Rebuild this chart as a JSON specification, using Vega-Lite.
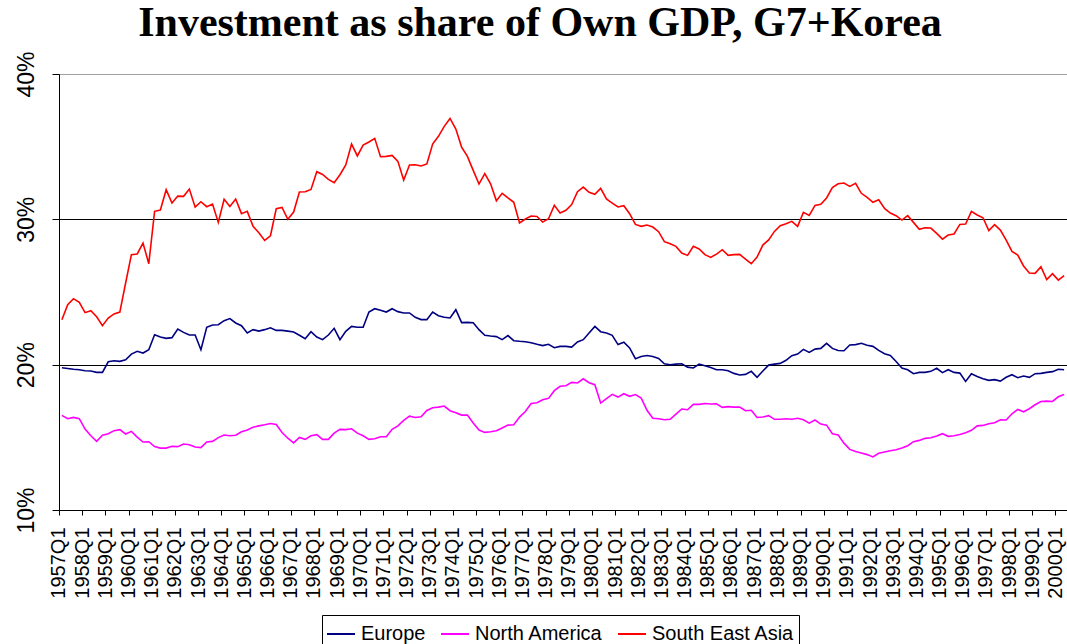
{
 "$schema": "https://vega.github.io/schema/vega-lite/v6.json",
 "width": 1008, "height": 436,
 "autosize": {"type": "none"},
 "padding": {"left": 59, "top": 74, "right": 0, "bottom": 134},
 "background": "white",
 "config": {"view": {"stroke": "#a0a0a0"}, "font": "Liberation Sans"},
 "title": {"text": "Investment as share of Own GDP, G7+Korea", "font": "Liberation Serif", "fontSize": 42, "fontWeight": "bold", "color": "black", "anchor": "middle", "baseline": "alphabetic", "offset": 10, "dx": -23, "dy": 37},
 "data": {"values": [
{"q":"1957Q1","Europe":19.79,"North America":16.51,"South East Asia":23.09},
{"q":"1957Q2","Europe":19.74,"North America":16.28,"South East Asia":24.13},
{"q":"1957Q3","Europe":19.68,"North America":16.37,"South East Asia":24.54},
{"q":"1957Q4","Europe":19.65,"North America":16.28,"South East Asia":24.29},
{"q":"1958Q1","Europe":19.58,"North America":15.57,"South East Asia":23.58},
{"q":"1958Q2","Europe":19.56,"North America":15.11,"South East Asia":23.71},
{"q":"1958Q3","Europe":19.47,"North America":14.72,"South East Asia":23.30},
{"q":"1958Q4","Europe":19.47,"North America":15.14,"South East Asia":22.68},
{"q":"1959Q1","Europe":20.20,"North America":15.25,"South East Asia":23.21},
{"q":"1959Q2","Europe":20.27,"North America":15.46,"South East Asia":23.49},
{"q":"1959Q3","Europe":20.23,"North America":15.53,"South East Asia":23.62},
{"q":"1959Q4","Europe":20.34,"North America":15.23,"South East Asia":25.62},
{"q":"1960Q1","Europe":20.73,"North America":15.41,"South East Asia":27.57},
{"q":"1960Q2","Europe":20.92,"North America":15.02,"South East Asia":27.62},
{"q":"1960Q3","Europe":20.80,"North America":14.68,"South East Asia":28.37},
{"q":"1960Q4","Europe":21.03,"North America":14.70,"South East Asia":26.95},
{"q":"1961Q1","Europe":22.06,"North America":14.36,"South East Asia":30.55},
{"q":"1961Q2","Europe":21.90,"North America":14.26,"South East Asia":30.64},
{"q":"1961Q3","Europe":21.81,"North America":14.26,"South East Asia":32.04},
{"q":"1961Q4","Europe":21.86,"North America":14.38,"South East Asia":31.12},
{"q":"1962Q1","Europe":22.45,"North America":14.36,"South East Asia":31.60},
{"q":"1962Q2","Europe":22.22,"North America":14.54,"South East Asia":31.58},
{"q":"1962Q3","Europe":22.04,"North America":14.49,"South East Asia":32.08},
{"q":"1962Q4","Europe":22.04,"North America":14.33,"South East Asia":30.84},
{"q":"1963Q1","Europe":21.03,"North America":14.29,"South East Asia":31.21},
{"q":"1963Q2","Europe":22.57,"North America":14.68,"South East Asia":30.87},
{"q":"1963Q3","Europe":22.73,"North America":14.72,"South East Asia":31.05},
{"q":"1963Q4","Europe":22.75,"North America":14.98,"South East Asia":29.79},
{"q":"1964Q1","Europe":23.03,"North America":15.16,"South East Asia":31.38},
{"q":"1964Q2","Europe":23.17,"North America":15.11,"South East Asia":30.88},
{"q":"1964Q3","Europe":22.87,"North America":15.14,"South East Asia":31.40},
{"q":"1964Q4","Europe":22.68,"North America":15.38,"South East Asia":30.39},
{"q":"1965Q1","Europe":22.18,"North America":15.51,"South East Asia":30.55},
{"q":"1965Q2","Europe":22.41,"North America":15.70,"South East Asia":29.52},
{"q":"1965Q3","Europe":22.31,"North America":15.79,"South East Asia":29.08},
{"q":"1965Q4","Europe":22.41,"North America":15.86,"South East Asia":28.55},
{"q":"1966Q1","Europe":22.54,"North America":15.95,"South East Asia":28.87},
{"q":"1966Q2","Europe":22.36,"North America":15.88,"South East Asia":30.73},
{"q":"1966Q3","Europe":22.36,"North America":15.33,"South East Asia":30.82},
{"q":"1966Q4","Europe":22.31,"North America":14.94,"South East Asia":30.00},
{"q":"1967Q1","Europe":22.25,"North America":14.62,"South East Asia":30.50},
{"q":"1967Q2","Europe":22.02,"North America":14.99,"South East Asia":31.88},
{"q":"1967Q3","Europe":21.79,"North America":14.86,"South East Asia":31.90},
{"q":"1967Q4","Europe":22.27,"North America":15.11,"South East Asia":32.06},
{"q":"1968Q1","Europe":21.90,"North America":15.18,"South East Asia":33.28},
{"q":"1968Q2","Europe":21.72,"North America":14.86,"South East Asia":33.09},
{"q":"1968Q3","Europe":22.04,"North America":14.86,"South East Asia":32.75},
{"q":"1968Q4","Europe":22.50,"North America":15.29,"South East Asia":32.52},
{"q":"1969Q1","Europe":21.72,"North America":15.55,"South East Asia":33.07},
{"q":"1969Q2","Europe":22.29,"North America":15.53,"South East Asia":33.74},
{"q":"1969Q3","Europe":22.63,"North America":15.59,"South East Asia":35.18},
{"q":"1969Q4","Europe":22.57,"North America":15.29,"South East Asia":34.36},
{"q":"1970Q1","Europe":22.57,"North America":15.11,"South East Asia":35.11},
{"q":"1970Q2","Europe":23.62,"North America":14.86,"South East Asia":35.32},
{"q":"1970Q3","Europe":23.85,"North America":14.90,"South East Asia":35.57},
{"q":"1970Q4","Europe":23.74,"North America":15.04,"South East Asia":34.31},
{"q":"1971Q1","Europe":23.62,"North America":15.04,"South East Asia":34.33},
{"q":"1971Q2","Europe":23.85,"North America":15.55,"South East Asia":34.40},
{"q":"1971Q3","Europe":23.65,"North America":15.79,"South East Asia":33.99},
{"q":"1971Q4","Europe":23.56,"North America":16.16,"South East Asia":32.70},
{"q":"1972Q1","Europe":23.56,"North America":16.46,"South East Asia":33.74},
{"q":"1972Q2","Europe":23.26,"North America":16.37,"South East Asia":33.76},
{"q":"1972Q3","Europe":23.10,"North America":16.42,"South East Asia":33.67},
{"q":"1972Q4","Europe":23.10,"North America":16.85,"South East Asia":33.81},
{"q":"1973Q1","Europe":23.62,"North America":17.04,"South East Asia":35.18},
{"q":"1973Q2","Europe":23.37,"North America":17.08,"South East Asia":35.71},
{"q":"1973Q3","Europe":23.26,"North America":17.15,"South East Asia":36.40},
{"q":"1973Q4","Europe":23.21,"North America":16.83,"South East Asia":36.94},
{"q":"1974Q1","Europe":23.78,"North America":16.69,"South East Asia":36.21},
{"q":"1974Q2","Europe":22.89,"North America":16.53,"South East Asia":34.97},
{"q":"1974Q3","Europe":22.91,"North America":16.53,"South East Asia":34.33},
{"q":"1974Q4","Europe":22.89,"North America":15.98,"South East Asia":33.37},
{"q":"1975Q1","Europe":22.41,"North America":15.50,"South East Asia":32.43},
{"q":"1975Q2","Europe":22.02,"North America":15.34,"South East Asia":33.14},
{"q":"1975Q3","Europe":21.97,"North America":15.38,"South East Asia":32.45},
{"q":"1975Q4","Europe":21.93,"North America":15.45,"South East Asia":31.28},
{"q":"1976Q1","Europe":21.72,"North America":15.64,"South East Asia":31.79},
{"q":"1976Q2","Europe":22.00,"North America":15.84,"South East Asia":31.47},
{"q":"1976Q3","Europe":21.65,"North America":15.86,"South East Asia":31.17},
{"q":"1976Q4","Europe":21.61,"North America":16.39,"South East Asia":29.75},
{"q":"1977Q1","Europe":21.58,"North America":16.78,"South East Asia":30.02},
{"q":"1977Q2","Europe":21.51,"North America":17.33,"South East Asia":30.23},
{"q":"1977Q3","Europe":21.40,"North America":17.38,"South East Asia":30.20},
{"q":"1977Q4","Europe":21.31,"North America":17.59,"South East Asia":29.81},
{"q":"1978Q1","Europe":21.40,"North America":17.68,"South East Asia":30.04},
{"q":"1978Q2","Europe":21.17,"North America":18.21,"South East Asia":30.96},
{"q":"1978Q3","Europe":21.26,"North America":18.51,"South East Asia":30.43},
{"q":"1978Q4","Europe":21.26,"North America":18.55,"South East Asia":30.62},
{"q":"1979Q1","Europe":21.21,"North America":18.78,"South East Asia":31.01},
{"q":"1979Q2","Europe":21.56,"North America":18.74,"South East Asia":31.90},
{"q":"1979Q3","Europe":21.72,"North America":19.03,"South East Asia":32.22},
{"q":"1979Q4","Europe":22.18,"North America":18.76,"South East Asia":31.86},
{"q":"1980Q1","Europe":22.63,"North America":18.62,"South East Asia":31.72},
{"q":"1980Q2","Europe":22.27,"North America":17.36,"South East Asia":32.13},
{"q":"1980Q3","Europe":22.18,"North America":17.66,"South East Asia":31.40},
{"q":"1980Q4","Europe":22.02,"North America":17.96,"South East Asia":31.12},
{"q":"1981Q1","Europe":21.38,"North America":17.77,"South East Asia":30.85},
{"q":"1981Q2","Europe":21.54,"North America":18.00,"South East Asia":30.94},
{"q":"1981Q3","Europe":21.15,"North America":17.82,"South East Asia":30.39},
{"q":"1981Q4","Europe":20.41,"North America":17.94,"South East Asia":29.65},
{"q":"1982Q1","Europe":20.56,"North America":17.70,"South East Asia":29.52},
{"q":"1982Q2","Europe":20.63,"North America":16.86,"South East Asia":29.61},
{"q":"1982Q3","Europe":20.56,"North America":16.31,"South East Asia":29.47},
{"q":"1982Q4","Europe":20.43,"North America":16.28,"South East Asia":29.15},
{"q":"1983Q1","Europe":20.06,"North America":16.21,"South East Asia":28.46},
{"q":"1983Q2","Europe":19.99,"North America":16.24,"South East Asia":28.32},
{"q":"1983Q3","Europe":20.04,"North America":16.60,"South East Asia":28.14},
{"q":"1983Q4","Europe":20.06,"North America":16.95,"South East Asia":27.68},
{"q":"1984Q1","Europe":19.83,"North America":16.90,"South East Asia":27.52},
{"q":"1984Q2","Europe":19.77,"North America":17.27,"South East Asia":28.14},
{"q":"1984Q3","Europe":20.04,"North America":17.27,"South East Asia":27.96},
{"q":"1984Q4","Europe":19.93,"North America":17.33,"South East Asia":27.57},
{"q":"1985Q1","Europe":19.81,"North America":17.29,"South East Asia":27.38},
{"q":"1985Q2","Europe":19.65,"North America":17.31,"South East Asia":27.61},
{"q":"1985Q3","Europe":19.65,"North America":17.06,"South East Asia":27.91},
{"q":"1985Q4","Europe":19.58,"North America":17.11,"South East Asia":27.52},
{"q":"1986Q1","Europe":19.40,"North America":17.08,"South East Asia":27.57},
{"q":"1986Q2","Europe":19.29,"North America":17.08,"South East Asia":27.59},
{"q":"1986Q3","Europe":19.33,"North America":16.83,"South East Asia":27.27},
{"q":"1986Q4","Europe":19.54,"North America":16.86,"South East Asia":26.95},
{"q":"1987Q1","Europe":19.13,"North America":16.37,"South East Asia":27.41},
{"q":"1987Q2","Europe":19.56,"North America":16.40,"South East Asia":28.23},
{"q":"1987Q3","Europe":19.97,"North America":16.49,"South East Asia":28.58},
{"q":"1987Q4","Europe":20.04,"North America":16.24,"South East Asia":29.17},
{"q":"1988Q1","Europe":20.09,"North America":16.24,"South East Asia":29.56},
{"q":"1988Q2","Europe":20.30,"North America":16.28,"South East Asia":29.70},
{"q":"1988Q3","Europe":20.62,"North America":16.24,"South East Asia":29.86},
{"q":"1988Q4","Europe":20.73,"North America":16.31,"South East Asia":29.52},
{"q":"1989Q1","Europe":21.05,"North America":16.21,"South East Asia":30.48},
{"q":"1989Q2","Europe":20.84,"North America":15.98,"South East Asia":30.27},
{"q":"1989Q3","Europe":21.07,"North America":16.19,"South East Asia":30.96},
{"q":"1989Q4","Europe":21.12,"North America":15.91,"South East Asia":31.03},
{"q":"1990Q1","Europe":21.47,"North America":15.84,"South East Asia":31.47},
{"q":"1990Q2","Europe":21.12,"North America":15.25,"South East Asia":32.18},
{"q":"1990Q3","Europe":20.98,"North America":15.16,"South East Asia":32.45},
{"q":"1990Q4","Europe":20.96,"North America":14.60,"South East Asia":32.50},
{"q":"1991Q1","Europe":21.35,"North America":14.17,"South East Asia":32.27},
{"q":"1991Q2","Europe":21.38,"North America":14.03,"South East Asia":32.48},
{"q":"1991Q3","Europe":21.47,"North America":13.92,"South East Asia":31.79},
{"q":"1991Q4","Europe":21.33,"North America":13.81,"South East Asia":31.51},
{"q":"1992Q1","Europe":21.26,"North America":13.65,"South East Asia":31.17},
{"q":"1992Q2","Europe":20.98,"North America":13.90,"South East Asia":31.35},
{"q":"1992Q3","Europe":20.75,"North America":13.99,"South East Asia":30.75},
{"q":"1992Q4","Europe":20.64,"North America":14.08,"South East Asia":30.43},
{"q":"1993Q1","Europe":20.22,"North America":14.15,"South East Asia":30.25},
{"q":"1993Q2","Europe":19.77,"North America":14.26,"South East Asia":29.95},
{"q":"1993Q3","Europe":19.65,"North America":14.42,"South East Asia":30.25},
{"q":"1993Q4","Europe":19.38,"North America":14.70,"South East Asia":29.79},
{"q":"1994Q1","Europe":19.47,"North America":14.79,"South East Asia":29.31},
{"q":"1994Q2","Europe":19.47,"North America":14.93,"South East Asia":29.42},
{"q":"1994Q3","Europe":19.54,"North America":14.97,"South East Asia":29.40},
{"q":"1994Q4","Europe":19.75,"North America":15.09,"South East Asia":29.03},
{"q":"1995Q1","Europe":19.45,"North America":15.25,"South East Asia":28.64},
{"q":"1995Q2","Europe":19.65,"North America":15.07,"South East Asia":28.92},
{"q":"1995Q3","Europe":19.47,"North America":15.11,"South East Asia":28.99},
{"q":"1995Q4","Europe":19.42,"North America":15.20,"South East Asia":29.65},
{"q":"1996Q1","Europe":18.85,"North America":15.32,"South East Asia":29.68},
{"q":"1996Q2","Europe":19.38,"North America":15.48,"South East Asia":30.55},
{"q":"1996Q3","Europe":19.19,"North America":15.79,"South East Asia":30.30},
{"q":"1996Q4","Europe":19.03,"North America":15.82,"South East Asia":30.11},
{"q":"1997Q1","Europe":18.92,"North America":15.93,"South East Asia":29.22},
{"q":"1997Q2","Europe":18.97,"North America":16.00,"South East Asia":29.63},
{"q":"1997Q3","Europe":18.87,"North America":16.21,"South East Asia":29.26},
{"q":"1997Q4","Europe":19.13,"North America":16.19,"South East Asia":28.57},
{"q":"1998Q1","Europe":19.31,"North America":16.62,"South East Asia":27.79},
{"q":"1998Q2","Europe":19.10,"North America":16.92,"South East Asia":27.54},
{"q":"1998Q3","Europe":19.22,"North America":16.76,"South East Asia":26.79},
{"q":"1998Q4","Europe":19.13,"North America":16.97,"South East Asia":26.31},
{"q":"1999Q1","Europe":19.38,"North America":17.24,"South East Asia":26.28},
{"q":"1999Q2","Europe":19.40,"North America":17.47,"South East Asia":26.74},
{"q":"1999Q3","Europe":19.47,"North America":17.49,"South East Asia":25.85},
{"q":"1999Q4","Europe":19.52,"North America":17.47,"South East Asia":26.26},
{"q":"2000Q1","Europe":19.68,"North America":17.79,"South East Asia":25.82},
{"q":"2000Q2","Europe":19.65,"North America":17.95,"South East Asia":26.12}
 ]},
 "transform": [{"fold": ["Europe", "North America", "South East Asia"], "as": ["series", "value"]}],
 "mark": {"type": "line", "strokeWidth": 1.6},
 "encoding": {
  "x": {"field": "q", "type": "ordinal", "sort": null, "scale": {"type": "point", "padding": 0.5},
   "axis": {"title": null, "values": ["1957Q1","1958Q1","1959Q1","1960Q1","1961Q1","1962Q1","1963Q1","1964Q1","1965Q1","1966Q1","1967Q1","1968Q1","1969Q1","1970Q1","1971Q1","1972Q1","1973Q1","1974Q1","1975Q1","1976Q1","1977Q1","1978Q1","1979Q1","1980Q1","1981Q1","1982Q1","1983Q1","1984Q1","1985Q1","1986Q1","1987Q1","1988Q1","1989Q1","1990Q1","1991Q1","1992Q1","1993Q1","1994Q1","1995Q1","1996Q1","1997Q1","1998Q1","1999Q1","2000Q1"],
    "labelAngle": 270, "labelFontSize": 20, "labelFont": "Liberation Sans", "labelColor": "black", "labelPadding": 12, "tickSize": 5, "tickColor": "black", "domainColor": "black", "tickOffset": -2.9, "labelOverlap": false, "labelFlush": false, "grid": false}},
  "y": {"field": "value", "type": "quantitative", "scale": {"domain": [10, 40], "nice": false, "zero": false},
   "axis": {"title": null, "values": [10, 20, 30, 40], "labelExpr": "datum.value + '%'", "labelAngle": 270, "labelFontSize": 23, "labelFont": "Liberation Sans", "labelColor": "black", "labelPadding": 14, "tickSize": 7, "tickColor": "black", "domainColor": "black", "grid": true, "gridColor": "black", "gridOpacity": {"condition": {"test": "datum.value == 20 || datum.value == 30", "value": 1}, "value": 0}}},
  "color": {"field": "series", "type": "nominal", "scale": {"domain": ["Europe", "North America", "South East Asia"], "range": ["#000080", "#FF00FF", "#FF0000"]},
   "legend": {"title": null, "orient": "none", "legendX": 263, "legendY": 541, "direction": "horizontal", "symbolType": "stroke", "symbolSize": 784, "symbolStrokeWidth": 2, "labelFontSize": 20, "labelFont": "Liberation Sans", "labelColor": "black", "labelOffset": 5, "columnPadding": 11, "padding": 4, "strokeColor": "black", "fillColor": "white", "labelLimit": 300}}
 }
}
